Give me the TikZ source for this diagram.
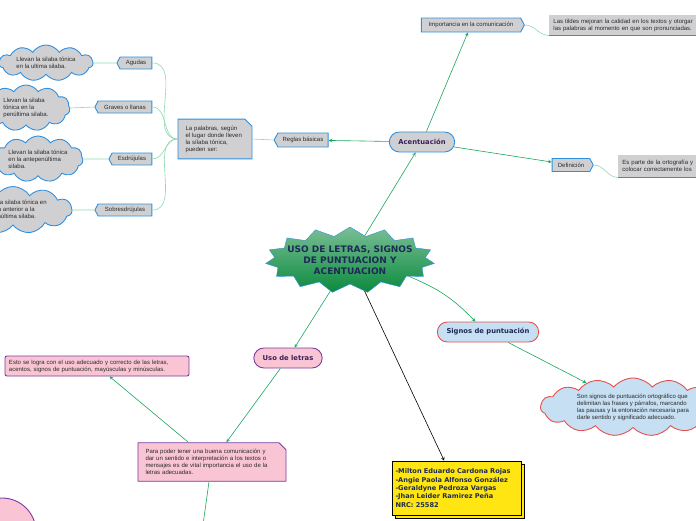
\documentclass[tikz,border=0pt]{standalone}
\usepackage{fontspec}
\setmainfont{Liberation Sans}
\newfontfamily\titlefont{DejaVu Sans}
\usepackage{tikz}
\usetikzlibrary{shapes.symbols,shapes.misc,shadows,arrows,positioning}
\definecolor{boxgray}{HTML}{D0D0D2}
\definecolor{boxblue}{HTML}{2E90E0}
\definecolor{linkgreen}{HTML}{1AA65C}
\definecolor{softgreen}{HTML}{8ED9AE}
\definecolor{rosefill}{HTML}{F9C5D4}
\definecolor{violetline}{HTML}{7B3B9E}
\definecolor{skyfill}{HTML}{C6DFF2}
\definecolor{redline}{HTML}{E5514F}
\definecolor{stargreen}{HTML}{0B8A3E}
\definecolor{inknavy}{HTML}{1D2A55}
\definecolor{inkplum}{HTML}{3B1F5F}
\definecolor{inkgray}{HTML}{2A2A2A}
\definecolor{namesyellow}{HTML}{FFE512}

\begin{document}
\begin{tikzpicture}[x=1pt,y=-1pt,>=stealth,
  every node/.style={font=\fontsize{6}{7}\selectfont,text=inkgray},
  tag/.style={shape=signal,signal pointer angle=125,draw=boxblue,
    fill=boxgray,line width=.9pt,minimum height=12pt,inner xsep=2pt,
    inner ysep=1pt},
  topic/.style={rounded rectangle,line width=.9pt,minimum height=20pt,
    font=\titlefont\bfseries\fontsize{6.8}{8}\selectfont},
  puff/.style={cloud,cloud puffs=11,cloud puff arc=115,cloud ignores aspect,
    line width=.9pt,align=left,inner sep=0pt},
  note/.style={line width=.9pt,align=left,inner xsep=4pt,inner ysep=3pt},
  link/.style={->,linkgreen,semithick},
  twig/.style={softgreen,semithick}]
 \useasboundingbox (0,0) rectangle (696,520);
 \clip (0,0) rectangle (696,520);

 % centre
 \node[shape=starburst,starburst points=15,starburst point height=9pt,
   random starburst=0,draw=boxblue,top color=stargreen!55!white,
   bottom color=stargreen,minimum width=150pt,minimum height=66pt,
   inner xsep=-9pt,inner ysep=-2pt,align=center,text=inknavy,
   font=\titlefont\bfseries\fontsize{9}{11}\selectfont] (main) at (350,260)
   {USO DE LETRAS, SIGNOS\\DE PUNTUACION Y\\ACENTUACION};

 % acentuacion
 \node[topic,draw=boxblue,fill=boxgray,text=inkplum,minimum width=72pt]
   (acc) at (422,142) {Acentuación};
 \node[tag,signal to=east,minimum width=103pt,minimum height=14pt] (imp)
   at (471,25) {Importancia en la comunicación};
 \node[note,fill=boxgray,anchor=west,text width=200pt,minimum height=20pt]
   (tildes) at (549,25)
   {Las tildes mejoran la calidad en los textos y otorgar\\las palabras al momento en que son pronunciadas.};
 \draw[boxblue,line width=1.2pt] (tildes.south west) -- (tildes.south east);
 \node[tag,signal to=east,minimum width=41pt,minimum height=13pt] (def)
   at (571,165) {Definición};
 \node[note,fill=boxgray,anchor=west,text width=120pt,minimum height=22pt]
   (orto) at (618,166) {Es parte de la ortografía y\\colocar correctamente los};
 \draw[boxblue,line width=1.2pt] (orto.south west) -- (orto.south east);
 \node[tag,signal to=west,minimum width=54pt,minimum height=14pt] (reg)
   at (303,140) {Reglas básicas};
 \node[note,chamfered rectangle,chamfered rectangle corners=north east,
   draw=boxblue,fill=boxgray,text width=59pt,minimum height=33pt] (pal)
   at (215,139) {La palabras, según\\el lugar donde lleven\\la sílaba tónica,\\pueden ser:};

 \node[tag,signal to=west,minimum width=35pt] (agu) at (136,63) {Agudas};
 \node[tag,signal to=west,minimum width=57pt] (gra) at (125,107) {Graves o llanas};
 \node[tag,signal to=west,minimum width=43pt] (esd) at (132,159) {Esdrújulas};
 \node[tag,signal to=west,minimum width=57pt] (sob) at (125,210) {Sobresdrújulas};

 \node[puff,draw=boxblue,fill=boxgray,minimum width=94pt,minimum height=36pt]
   (agucloud) at (46,63) {Llevan la silaba tónica\\en la ultima silaba.};
 \node[puff,draw=boxblue,fill=boxgray,minimum width=88pt,minimum height=46pt]
   (gracloud) at (26,108) {Llevan la silaba\\tónica en la\\penúltima silaba.};
 \node[puff,draw=boxblue,fill=boxgray,minimum width=90pt,minimum height=46pt]
   (esdcloud) at (38,159) {Llevan la silaba tónica\\en la antepenúltima\\silaba.};
 \node[puff,draw=boxblue,fill=boxgray,minimum width=118pt,minimum height=47pt]
   (sobcloud) at (13,210) {Llevan la silaba tónica en\\la silaba anterior a la\\antepenúltima silaba.};

 \draw[link] (main) -- (acc);
 \draw[link] (acc) -- (imp);
 \draw[link] (acc) -- (def);
 \draw[link] (acc) -- (reg);
 \draw[twig] (imp.east) to[out=0,in=180] (tildes.south west);
 \draw[twig] (def.east) to[out=0,in=180] (orto.south west);
 \draw[twig] (reg.west) -- (pal.east);
 \draw[twig] (pal.west) to[out=180,in=0] (agu.east);
 \draw[twig] (pal.west) to[out=180,in=0] (gra.east);
 \draw[twig] (pal.west) to[out=180,in=0] (esd.east);
 \draw[twig] (pal.west) to[out=180,in=0] (sob.east);
 \draw[twig] (agu.west) -- (agucloud.east);
 \draw[twig] (gra.west) -- (gracloud.east);
 \draw[twig] (esd.west) -- (esdcloud.east);
 \draw[twig] (sob.west) -- (sobcloud.east);

 % uso de letras
 \node[topic,draw=violetline,fill=rosefill,text=inkplum,minimum width=75pt]
   (uso) at (288,358) {Uso de letras};
 \node[note,rounded corners=2pt,draw=violetline,fill=rosefill,text width=176pt,
   minimum height=20pt] (esto) at (97,366)
   {Esto se logra con el uso adecuado y correcto de las letras,\\acentos, signos de puntuación, mayúsculas y minúsculas.};
 \node[note,chamfered rectangle,chamfered rectangle corners=north east,
   draw=violetline,fill=rosefill,text width=133pt,minimum height=33pt] (para)
   at (212,462) {Para poder tener una buena comunicación y\\dar un sentido e interpretación a los textos o\\mensajes es de vital importancia el uso de la\\letras adecuadas.};
 \node[circle,draw=violetline,fill=rosefill,line width=.9pt,minimum size=68pt]
   (more) at (2,532) {};
 \coordinate (below) at (202,532);
 \draw[link] (main) -- (uso);
 \draw[link] (uso) -- (para);
 \draw[link] (para) -- (esto);
 \draw[link] ([xshift=-3pt]para.south) -- (below);

 % signos
 \node[topic,draw=redline,fill=skyfill,text=inknavy,minimum width=108pt]
   (sig) at (488,332) {Signos de puntuación};
 \node[puff,cloud puffs=15,cloud puff arc=100,draw=redline,fill=skyfill,
   minimum width=185pt,minimum height=58pt]
   (signube) at (633,407) {Son signos de puntuación ortográfico que\\delimitan las frases y párrafos, marcando\\las pausas y la entonación necesaria para\\darle sentido y significado adecuado.};
 \draw[link] (main) to[bend left=12] (sig);
 \draw[link] (sig) -- (signube);

 % autores
 \node[note,draw=black,fill=namesyellow,line width=.6pt,inner xsep=3pt,
   copy shadow={shadow xshift=3pt,shadow yshift=-3pt},text width=123pt,
   minimum height=54pt,text=inknavy,
   font=\titlefont\bfseries\fontsize{6.6}{8.4}\selectfont] (names) at (457,488)
   {-Milton Eduardo Cardona Rojas\\-Angie Paola Alfonso González\\-Geraldyne Pedroza Vargas\\-Jhan Leider Ramirez Peña\\NRC: 25582};
 \draw[->,black,semithick] (main) -- (names);
\end{tikzpicture}
\end{document}
